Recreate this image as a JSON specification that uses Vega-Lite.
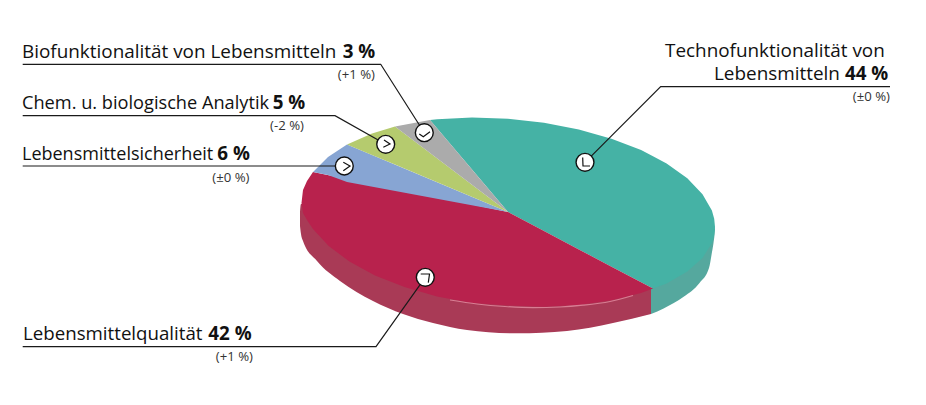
{
"$schema":"https://vega.github.io/schema/vega-lite/v6.json",
"width":926,"height":405,"padding":0,"autosize":{"type":"none"},
"background":"white",
"config":{"view":{"stroke":null}},
"datasets":{
"rims":[
{"slice":"Rand Lebensmittelqualität","x":300,"y":212,"y2":226},{"slice":"Rand Lebensmittelqualität","x":301,"y":204,"y2":234},{"slice":"Rand Lebensmittelqualität","x":303,"y":204,"y2":241},{"slice":"Rand Lebensmittelqualität","x":317,"y":204,"y2":261},{"slice":"Rand Lebensmittelqualität","x":340,"y":204,"y2":281},{"slice":"Rand Lebensmittelqualität","x":373,"y":204,"y2":301},{"slice":"Rand Lebensmittelqualität","x":403,"y":210,"y2":314},{"slice":"Rand Lebensmittelqualität","x":433,"y":230,"y2":323},{"slice":"Rand Lebensmittelqualität","x":467,"y":250,"y2":330},{"slice":"Rand Lebensmittelqualität","x":517,"y":250,"y2":333.3},{"slice":"Rand Lebensmittelqualität","x":567,"y":260,"y2":331},{"slice":"Rand Lebensmittelqualität","x":613,"y":275,"y2":323},{"slice":"Rand Lebensmittelqualität","x":651,"y":288,"y2":314},
{"slice":"Rand Technofunktionalität","x":651,"y":288,"y2":314},{"slice":"Rand Technofunktionalität","x":663.6,"y":282,"y2":308.5},{"slice":"Rand Technofunktionalität","x":684,"y":270,"y2":296.6},{"slice":"Rand Technofunktionalität","x":699.5,"y":255,"y2":283},{"slice":"Rand Technofunktionalität","x":709,"y":240,"y2":268},{"slice":"Rand Technofunktionalität","x":712,"y":232,"y2":252},{"slice":"Rand Technofunktionalität","x":713.5,"y":230,"y2":243},{"slice":"Rand Technofunktionalität","x":714.5,"y":228,"y2":235},{"slice":"Rand Technofunktionalität","x":715,"y":227,"y2":229}
],
"faces":[
{"slice":"Technofunktionalität","x":430,"y":120,"y2":120},{"slice":"Technofunktionalität","x":437.2,"y":119.2,"y2":128.5},{"slice":"Technofunktionalität","x":472,"y":117.5,"y2":169.5},{"slice":"Technofunktionalität","x":508,"y":118.7,"y2":212},{"slice":"Technofunktionalität","x":544,"y":122.7,"y2":231},{"slice":"Technofunktionalität","x":578.8,"y":129.4,"y2":249.4},{"slice":"Technofunktionalität","x":611.5,"y":138.7,"y2":266.7},{"slice":"Technofunktionalität","x":641.1,"y":150.1,"y2":282.3},{"slice":"Technofunktionalität","x":653,"y":156.3,"y2":288.6},{"slice":"Technofunktionalität","x":666.6,"y":163.5,"y2":283.5},{"slice":"Technofunktionalität","x":687.3,"y":178.35,"y2":271.6},{"slice":"Technofunktionalität","x":702.5,"y":194.2,"y2":258},{"slice":"Technofunktionalität","x":711.9,"y":210.6,"y2":243},{"slice":"Technofunktionalität","x":714.2,"y":218.8,"y2":235.1},{"slice":"Technofunktionalität","x":715,"y":227,"y2":227},
{"slice":"Lebensmittelqualität","x":301.5,"y":203,"y2":203},{"slice":"Lebensmittelqualität","x":303,"y":190,"y2":213},{"slice":"Lebensmittelqualität","x":307,"y":181,"y2":220},{"slice":"Lebensmittelqualität","x":313,"y":172,"y2":229},{"slice":"Lebensmittelqualität","x":328.7,"y":175.2,"y2":246},{"slice":"Lebensmittelqualität","x":349.4,"y":179.5,"y2":261.5},{"slice":"Lebensmittelqualität","x":375,"y":184.7,"y2":275.5},{"slice":"Lebensmittelqualität","x":404.5,"y":190.8,"y2":287},{"slice":"Lebensmittelqualität","x":437,"y":197.5,"y2":296.5},{"slice":"Lebensmittelqualität","x":472,"y":204.6,"y2":303},{"slice":"Lebensmittelqualität","x":508,"y":212,"y2":305.5},{"slice":"Lebensmittelqualität","x":544,"y":231,"y2":306.8},{"slice":"Lebensmittelqualität","x":578.8,"y":249.4,"y2":305},{"slice":"Lebensmittelqualität","x":611.5,"y":266.7,"y2":300.3},{"slice":"Lebensmittelqualität","x":641.1,"y":282.3,"y2":293.1},{"slice":"Lebensmittelqualität","x":653,"y":288.6,"y2":288.6},
{"slice":"Lebensmittelsicherheit","x":313,"y":172,"y2":172},{"slice":"Lebensmittelsicherheit","x":328,"y":157,"y2":175},{"slice":"Lebensmittelsicherheit","x":347,"y":144.5,"y2":182},{"slice":"Lebensmittelsicherheit","x":508,"y":212,"y2":212},
{"slice":"Chem. u. biologische Analytik","x":347,"y":144.5,"y2":144.5},{"slice":"Chem. u. biologische Analytik","x":372,"y":133.5,"y2":155},{"slice":"Chem. u. biologische Analytik","x":395,"y":126.5,"y2":164.6},{"slice":"Chem. u. biologische Analytik","x":508,"y":212,"y2":212},
{"slice":"Biofunktionalität","x":395,"y":126.5,"y2":126.5},{"slice":"Biofunktionalität","x":430,"y":120,"y2":153},{"slice":"Biofunktionalität","x":508,"y":212,"y2":212}
],
"highlight":[{"x":450,"y":300},{"x":477,"y":304},{"x":505,"y":306.5},{"x":533,"y":307.6},{"x":560,"y":307},{"x":583,"y":305.2},{"x":610,"y":301.5},{"x":633,"y":295.5}],
"leaders":[
{"id":"bio","i":1,"x":22.7,"y":64.3},{"id":"bio","i":2,"x":380.7,"y":64.3},{"id":"bio","i":3,"x":424.3,"y":132.7},
{"id":"chem","i":1,"x":22.7,"y":115.7},{"id":"chem","i":2,"x":335,"y":115.7},{"id":"chem","i":3,"x":385.7,"y":144.3},
{"id":"sich","i":1,"x":22.7,"y":166},{"id":"sich","i":2,"x":344.3,"y":166},
{"id":"qual","i":1,"x":22.7,"y":346.7},{"id":"qual","i":2,"x":376,"y":346.7},{"id":"qual","i":3,"x":425.3,"y":277.3},
{"id":"tech","i":1,"x":890,"y":86.7},{"id":"tech","i":2,"x":660.7,"y":86.7},{"id":"tech","i":3,"x":585,"y":162.3}
],
"markers":[{"x":585,"y":162.3},{"x":424.3,"y":132.7},{"x":385.7,"y":144.3},{"x":344.3,"y":166},{"x":425.3,"y":277.3}],
"chevrons":[
{"id":"tech","i":1,"x":582.7,"y":157.5},{"id":"tech","i":2,"x":583,"y":166},{"id":"tech","i":3,"x":590,"y":166},
{"id":"bio","i":1,"x":419.3,"y":134},{"id":"bio","i":2,"x":423.3,"y":136.7},{"id":"bio","i":3,"x":430,"y":131.7},
{"id":"chem","i":1,"x":384,"y":140},{"id":"chem","i":2,"x":390,"y":144},{"id":"chem","i":3,"x":383.3,"y":147.3},
{"id":"sich","i":1,"x":343.3,"y":162.3},{"id":"sich","i":2,"x":350,"y":166},{"id":"sich","i":3,"x":343.3,"y":170.7},
{"id":"qual","i":1,"x":420.7,"y":274},{"id":"qual","i":2,"x":429.5,"y":274},{"id":"qual","i":3,"x":428.3,"y":282.7}
],
"labels":[
{"kind":"name","label":"Biofunktionalität von Lebensmitteln","x":22,"y":58.3},
{"kind":"share","label":"3 %","x":342.7,"y":58.3},
{"kind":"change","label":"(+1 %)","x":375,"y":79.3},
{"kind":"name","label":"Chem. u. biologische Analytik","x":22,"y":109.3},
{"kind":"share","label":"5 %","x":272.7,"y":109.3},
{"kind":"change","label":"(-2 %)","x":304,"y":130},
{"kind":"name","label":"Lebensmittelsicherheit","x":22,"y":160},
{"kind":"share","label":"6 %","x":217.3,"y":160},
{"kind":"change","label":"(±0 %)","x":249.5,"y":181.7},
{"kind":"name","label":"Lebensmittelqualität","x":23,"y":340},
{"kind":"share","label":"42 %","x":208.3,"y":340},
{"kind":"change","label":"(+1 %)","x":253,"y":361},
{"kind":"name","label":"Technofunktionalität von","x":665,"y":57.3},
{"kind":"name","label":"Lebensmitteln","x":714,"y":80},
{"kind":"share","label":"44 %","x":845,"y":80},
{"kind":"change","label":"(±0 %)","x":890,"y":100.7}
]
},
"encoding":{
"x":{"field":"x","type":"quantitative","axis":null,"scale":{"domain":[0,926],"nice":false,"zero":false}},
"y":{"field":"y","type":"quantitative","axis":null,"scale":{"domain":[405,0],"nice":false,"zero":false}}
},
"layer":[
{"data":{"name":"rims"},"mark":{"type":"area","interpolate":"monotone"},
 "encoding":{"y2":{"field":"y2"},"fill":{"field":"slice","type":"nominal","legend":null,"scale":{"domain":["Rand Technofunktionalität","Rand Lebensmittelqualität","Technofunktionalität","Lebensmittelqualität","Lebensmittelsicherheit","Chem. u. biologische Analytik","Biofunktionalität"],"range":["#55A89E","#A93A56","#45B2A5","#B8224D","#87A5D3","#B5CB6E","#ABABAB"]}}}},
{"data":{"name":"faces"},"mark":{"type":"area","interpolate":"linear"},
 "encoding":{"y2":{"field":"y2"},"fill":{"field":"slice","type":"nominal","legend":null,"scale":{"domain":["Rand Technofunktionalität","Rand Lebensmittelqualität","Technofunktionalität","Lebensmittelqualität","Lebensmittelsicherheit","Chem. u. biologische Analytik","Biofunktionalität"],"range":["#55A89E","#A93A56","#45B2A5","#B8224D","#87A5D3","#B5CB6E","#ABABAB"]}}}},
{"data":{"name":"highlight"},"mark":{"type":"line","color":"#E58FA3","strokeWidth":1.2,"opacity":0.8,"interpolate":"monotone"}},
{"data":{"name":"leaders"},"mark":{"type":"line","color":"#1a1a1a","strokeWidth":1.2},
 "encoding":{"detail":{"field":"id"},"order":{"field":"i","type":"quantitative"}}},
{"data":{"name":"markers"},"mark":{"type":"point","shape":"circle","filled":true,"fill":"white","stroke":"#111111","strokeWidth":1.4,"size":320,"opacity":1}},
{"data":{"name":"chevrons"},"mark":{"type":"line","color":"#111111","strokeWidth":1.2},
 "encoding":{"detail":{"field":"id"},"order":{"field":"i","type":"quantitative"}}},
{"data":{"name":"labels"},"transform":[{"filter":"datum.kind==='name'"}],"mark":{"type":"text","align":"left","baseline":"alphabetic","font":"Open Sans","color":"#111111"},"encoding":{"text":{"field":"label"},"size":{"field":"label","type":"nominal","legend":null,"scale":{"type":"ordinal","domain":["Biofunktionalität von Lebensmitteln","Chem. u. biologische Analytik","Lebensmittelsicherheit","Lebensmittelqualität","Technofunktionalität von","Lebensmitteln"],"range":[18.9,18.2,18,18.7,18.9,18.9]}}}},
{"data":{"name":"labels"},"transform":[{"filter":"datum.kind==='share'"}],"mark":{"type":"text","align":"left","baseline":"alphabetic","font":"Open Sans","fontWeight":"bold","fontSize":18.8,"color":"#111111"},"encoding":{"text":{"field":"label"}}},
{"data":{"name":"labels"},"transform":[{"filter":"datum.kind==='change'"}],"mark":{"type":"text","align":"right","baseline":"alphabetic","font":"Open Sans","fontSize":13.2,"color":"#333333"},"encoding":{"text":{"field":"label"}}}
]
}
